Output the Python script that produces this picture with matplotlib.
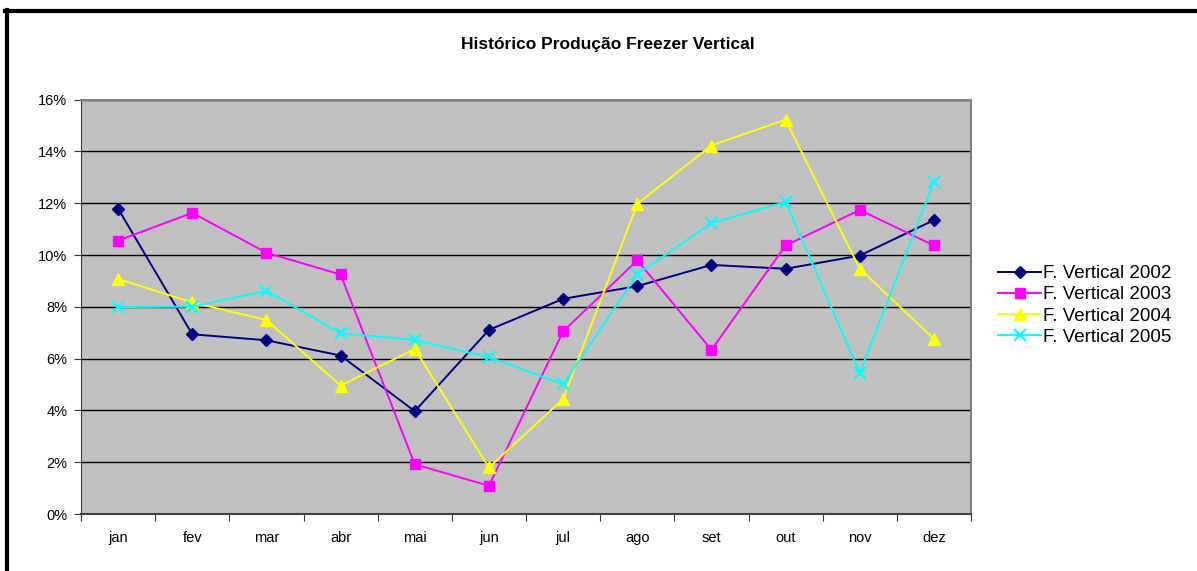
import matplotlib.pyplot as plt
import numpy as np
from matplotlib.lines import Line2D
from matplotlib.ticker import FixedLocator, PercentFormatter

plt.rcParams['font.family'] = ['Liberation Sans', 'DejaVu Sans']

meses = ['jan', 'fev', 'mar', 'abr', 'mai', 'jun', 'jul', 'ago', 'set', 'out', 'nov', 'dez']

# participação mensal na produção anual (%)
prod_2002 = [11.79, 6.94, 6.71, 6.12, 3.97, 7.11, 8.31, 8.80, 9.62, 9.47, 9.98, 11.35]
prod_2003 = [10.56, 11.63, 10.09, 9.25, 1.92, 1.09, 7.05, 9.80, 6.34, 10.37, 11.74, 10.37]
prod_2004 = [9.08, 8.17, 7.49, 4.96, 6.37, 1.80, 4.44, 11.98, 14.23, 15.23, 9.47, 6.76]
prod_2005 = [7.99, 8.01, 8.62, 6.98, 6.72, 6.06, 5.01, 9.26, 11.23, 12.05, 5.45, 12.83]

series = [
    ('F. Vertical 2002', prod_2002, '#000080', 'D', 6),
    ('F. Vertical 2003', prod_2003, '#ff00ff', 's', 7),
    ('F. Vertical 2004', prod_2004, '#ffff00', '^', 8),
    ('F. Vertical 2005', prod_2005, '#00ffff', 'x', 8),
]

fig = plt.figure(figsize=(11.97, 5.71), dpi=100)
ax = fig.add_axes([0.0677, 0.0998, 0.7435, 0.7256])
ax.set_facecolor('#c0c0c0')

x = np.arange(len(meses))
for nome, valores, cor, marcador, tam in series:
    ax.plot(x, valores, color=cor, marker=marcador, markersize=tam, lw=1.4,
            markeredgewidth=1.6 if marcador == 'x' else 1, label=nome, zorder=3)

ax.set_xlim(-0.5, len(meses) - 0.5)
ax.set_ylim(0, 16)
ax.set_yticks(np.arange(0, 17, 2))
ax.yaxis.set_major_formatter(PercentFormatter(decimals=0))
ax.grid(axis='y', color='black', lw=1, zorder=1)
ax.set_axisbelow(True)

# marcas nas divisas entre meses, rótulos centrados
ax.xaxis.set_major_locator(FixedLocator(np.arange(-0.5, len(meses), 1)))
ax.xaxis.set_minor_locator(FixedLocator(x))
ax.set_xticklabels([])
ax.set_xticklabels(meses, minor=True)
ax.tick_params(axis='x', which='major', direction='out', length=5, color='#333333')
ax.tick_params(axis='x', which='minor', length=0, pad=12, labelsize=10.5)
ax.tick_params(axis='y', direction='out', length=5, color='#333333', labelsize=10.5, pad=5)

for lado in ['top', 'right']:
    ax.spines[lado].set_color('#808080')
    ax.spines[lado].set_linewidth(1.5)
ax.spines['left'].set_color('#404040')
ax.spines['bottom'].set_color('#404040')
ax.spines['bottom'].set_linewidth(1.5)

fig.text(0.508, 0.922, 'Histórico Produção Freezer Vertical', ha='center', va='center',
         fontsize=12.5, fontweight='bold')

fig.legend(loc='center left', bbox_to_anchor=(0.834, 0.465), frameon=False,
           fontsize=13.5, handlelength=2.3, handletextpad=0.1, labelspacing=0.22,
           borderaxespad=0, borderpad=0)

# moldura do gráfico
fig.add_artist(Line2D([0.0055, 0.0055], [0, 0.983], color='black', lw=3, transform=fig.transFigure))
fig.add_artist(Line2D([0.0042, 1], [0.981, 0.981], color='black', lw=3, transform=fig.transFigure))

fig.savefig('out.png', dpi=100)
